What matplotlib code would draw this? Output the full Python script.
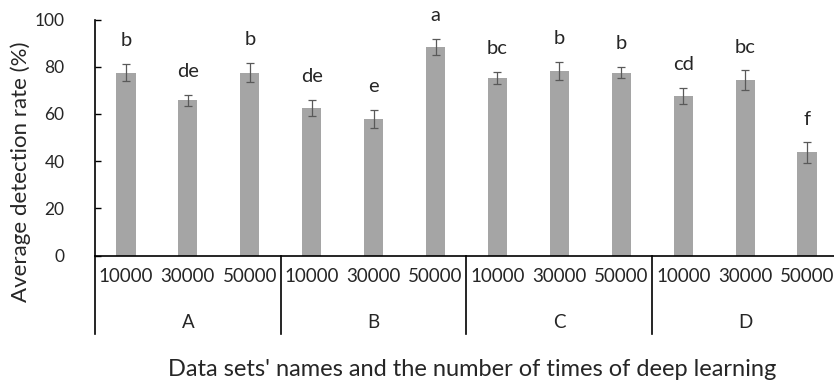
import numpy as np
import matplotlib
matplotlib.use('Agg')
import matplotlib.pyplot as plt
import matplotlib.transforms as mtransforms

plt.rcParams['font.family'] = ['Lato', 'DejaVu Sans']

# data
groups = ['A', 'B', 'C', 'D']
runs = ['10000', '30000', '50000']
rates = [77.5, 65.8, 77.5, 62.7, 57.8, 88.4, 75.3, 78.2, 77.5, 67.7, 74.4, 43.7]
errs = [3.7, 2.4, 4.0, 3.4, 3.8, 3.3, 2.5, 3.8, 2.3, 3.3, 4.1, 4.3]
letters = ['b', 'de', 'b', 'de', 'e', 'a', 'bc', 'b', 'b', 'cd', 'bc', 'f']

txt = '#262626'
fig = plt.figure(figsize=(8.34, 3.83), dpi=100)
ax = fig.add_axes([95/834, 127.3/383, 743/834, 236.2/383])

x = np.arange(len(rates))
ax.bar(x, rates, width=0.31, color='#A5A5A5', zorder=2)
ax.errorbar(x, rates, yerr=errs, fmt='none', ecolor='#595959',
            elinewidth=0.9, capsize=3, capthick=0.9, zorder=3)

for xi, v, e, lab in zip(x, rates, errs, letters):
    ax.text(xi, v + e + 7.5, lab, ha='center', va='baseline',
            fontsize=14.5, color=txt)

ax.set_xlim(-0.5, len(rates) - 0.5)
ax.set_ylim(0, 100)
ax.set_yticks(range(0, 101, 20))
ax.tick_params(axis='y', direction='in', length=4, width=1, labelsize=12.5,
               labelcolor=txt, pad=22)
ax.set_xticks([])
for s in ['top', 'right']:
    ax.spines[s].set_visible(False)
ax.spines['left'].set_linewidth(1.2)
ax.spines['bottom'].set_linewidth(1.2)

# two-level category axis
trans = mtransforms.blended_transform_factory(ax.transData, ax.transAxes)
n = len(runs)
for gi, g in enumerate(groups):
    for ri, r in enumerate(runs):
        ax.text(gi * n + ri, -0.089, r, transform=trans, ha='center',
                va='center', fontsize=13.5, color=txt)
    ax.text(gi * n + (n - 1) / 2, -0.281, g, transform=trans, ha='center',
            va='center', fontsize=13.5, color=txt)
for b in range(len(groups)):
    ax.plot([b * n - 0.5] * 2, [0, -0.331], transform=trans, color='black',
            lw=1.2, clip_on=False)

fig.text(21/834, 1 - 172/383, 'Average detection rate (%)', rotation=90,
         ha='center', va='center', fontsize=16, color=txt)
fig.text(472/834, 1 - 370/383,
         "Data sets' names and the number of times of deep learning",
         ha='center', va='center', fontsize=17, color=txt)

fig.savefig('out.png', dpi=100)
